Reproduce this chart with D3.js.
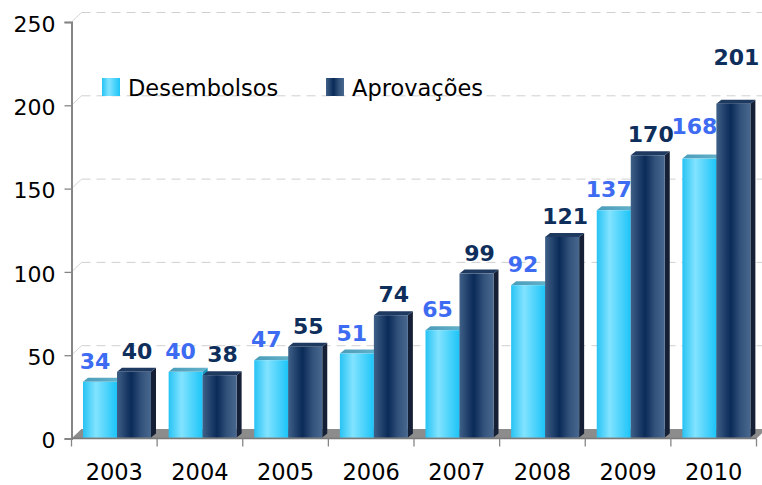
<!DOCTYPE html>
<html>
<head>
<meta charset="utf-8">
<script src="https://cdn.jsdelivr.net/npm/d3@7/dist/d3.min.js"></script>
<style>
  html, body { margin: 0; padding: 0; background: #fff; }
  svg { display: block; font-family: 'DejaVu Sans', sans-serif; }
</style>
</head>
<body>
<div id="chart"></div>
<script>
const years        = ['2003', '2004', '2005', '2006', '2007', '2008', '2009', '2010'];
const desembolsos  = [34, 40, 47, 51, 65, 92, 137, 168];
const aprovacoes   = [40, 38, 55, 74, 99, 121, 170, 201];
const seriesNames  = ['Desembolsos', 'Aprovações'];
const yTicks       = [0, 50, 100, 150, 200, 250];

const W = 762, H = 485;
const WALL_DX = 10, WALL_DY = 9.5;   // depth of floor / back wall
const BAR_DX = 5, BAR_DY = 4;        // depth of each bar

// labels Excel pushed around
const labelNudge = { 'Desembolsos-2010': -12, 'Aprovações-2010': -26 };
const labelShift = { 'Desembolsos': -5, 'Aprovações': 3 };

const svg = d3.select('#chart').append('svg')
  .attr('width', W).attr('height', H)
  .attr('viewBox', `0 0 ${W} ${H}`);

const defs = svg.append('defs');

function gradient(id, stops) {
  const g = defs.append('linearGradient').attr('id', id)
    .attr('x1', '0%').attr('x2', '100%').attr('y1', '0%').attr('y2', '0%');
  stops.forEach(([o, c]) => g.append('stop').attr('offset', o).attr('stop-color', c));
}
gradient('g-des', [[0, '#27c3f4'], [0.38, '#82e3ff'], [1, '#1cc4f8']]);
gradient('g-apr', [[0, '#3f6087'], [0.42, '#0a2a58'], [0.72, '#34537c'], [1, '#48688f']]);
gradient('g-des-top', [[0, '#4a9cba'], [1, '#65b3cb']]);

const style = {
  'Desembolsos': { front: 'url(#g-des)', top: 'url(#g-des-top)', side: '#1a93bd', label: '#3d6bf2' },
  'Aprovações':  { front: 'url(#g-apr)', top: '#1f3a60', side: '#151f35', label: '#0e2e5c' }
};

const y = d3.scaleLinear().domain([0, 250]).range([438.5, 22]);
const x = d3.scaleBand().domain(years).range([71.5, 756.5]).paddingInner(0).paddingOuter(0);
const xs = d3.scaleBand().domain(seriesNames).range([11.5, 79.5]);

const x0 = x.range()[0], x1 = x.range()[1];
const y0 = y(0);

// floor
svg.append('polygon')
  .attr('points', [[x0, y0], [x1, y0], [x1 + WALL_DX, y0 - WALL_DY], [x0 + WALL_DX, y0 - WALL_DY]].join(' '))
  .attr('fill', '#8c8c8c');

// grid on back wall
const grid = svg.append('g');
yTicks.filter(t => t > 0).forEach(t => {
  grid.append('line')
    .attr('x1', x0 + WALL_DX).attr('x2', W)
    .attr('y1', y(t) - WALL_DY).attr('y2', y(t) - WALL_DY)
    .attr('stroke', '#d0d0d0').attr('stroke-width', 1)
    .attr('stroke-dasharray', '9,6');
  grid.append('line')
    .attr('x1', x0).attr('y1', y(t))
    .attr('x2', x0 + WALL_DX).attr('y2', y(t) - WALL_DY)
    .attr('stroke', '#d4d4d4').attr('stroke-width', 1);
});

// y axis
const yAxis = d3.axisLeft(y).tickValues(yTicks).tickSize(7).tickPadding(9);
const gy = svg.append('g').attr('transform', `translate(${x0},0)`).call(yAxis);
gy.select('.domain').attr('stroke', '#868686').attr('stroke-width', 2);
gy.selectAll('.tick line').attr('stroke', '#868686').attr('stroke-width', 1.3);
gy.selectAll('.tick text')
  .attr('font-family', 'DejaVu Sans').attr('font-size', 22).attr('fill', '#000')
  .attr('dy', '0.42em');

// x axis
svg.append('line')
  .attr('x1', x0).attr('x2', x1).attr('y1', y0).attr('y2', y0)
  .attr('stroke', '#7a7a7a').attr('stroke-width', 1.5);
const edges = years.map(d => x(d)).concat([x1]);
svg.append('g').selectAll('line').data(edges).join('line')
  .attr('x1', d => d).attr('x2', d => d)
  .attr('y1', y0).attr('y2', y0 + 8)
  .attr('stroke', '#868686').attr('stroke-width', 1.3);
svg.append('g').selectAll('text').data(years).join('text')
  .attr('x', d => x(d) + x.bandwidth() / 2)
  .attr('y', 479.5)
  .attr('text-anchor', 'middle')
  .attr('font-size', 22.5).attr('fill', '#000')
  .text(d => d);

// bars
const rows = years.map((yr, i) => ({
  year: yr,
  values: [
    { name: 'Desembolsos', value: desembolsos[i] },
    { name: 'Aprovações', value: aprovacoes[i] }
  ]
}));

const bars = svg.append('g');
rows.forEach(r => {
  r.values.forEach(v => {
    const s = style[v.name];
    const bx = x(r.year) + xs(v.name);
    const bw = xs.bandwidth();
    const top = y(v.value);
    const bot = y0 - 1;
    const g = bars.append('g');
    g.append('polygon')
      .attr('points', [[bx + bw, top], [bx + bw + BAR_DX, top - BAR_DY], [bx + bw + BAR_DX, bot - BAR_DY], [bx + bw, bot]].join(' '))
      .attr('fill', s.side);
    g.append('polygon')
      .attr('points', [[bx, top], [bx + BAR_DX, top - BAR_DY], [bx + bw + BAR_DX, top - BAR_DY], [bx + bw, top]].join(' '))
      .attr('fill', s.top);
    g.append('rect')
      .attr('x', bx).attr('y', top)
      .attr('width', bw).attr('height', bot - top)
      .attr('fill', s.front);
  });
});

// value labels
const labels = svg.append('g');
rows.forEach(r => {
  r.values.forEach(v => {
    const bx = x(r.year) + xs(v.name) + xs.bandwidth() / 2;
    labels.append('text')
      .attr('x', bx + labelShift[v.name])
      .attr('y', y(v.value) - 13 + (labelNudge[`${v.name}-${r.year}`] || 0))
      .attr('text-anchor', 'middle')
      .attr('font-size', 22).attr('font-weight', 'bold')
      .attr('fill', style[v.name].label)
      .text(v.value);
  });
});

// legend
const legendX = [102, 326];
const legend = svg.append('g');
seriesNames.forEach((name, i) => {
  legend.append('rect')
    .attr('x', legendX[i]).attr('y', 78)
    .attr('width', 18).attr('height', 18)
    .attr('fill', style[name].front);
  legend.append('text')
    .attr('x', legendX[i] + 26).attr('y', 95.5)
    .attr('font-size', 22.5).attr('fill', '#000')
    .text(name);
});
</script>
</body>
</html>
